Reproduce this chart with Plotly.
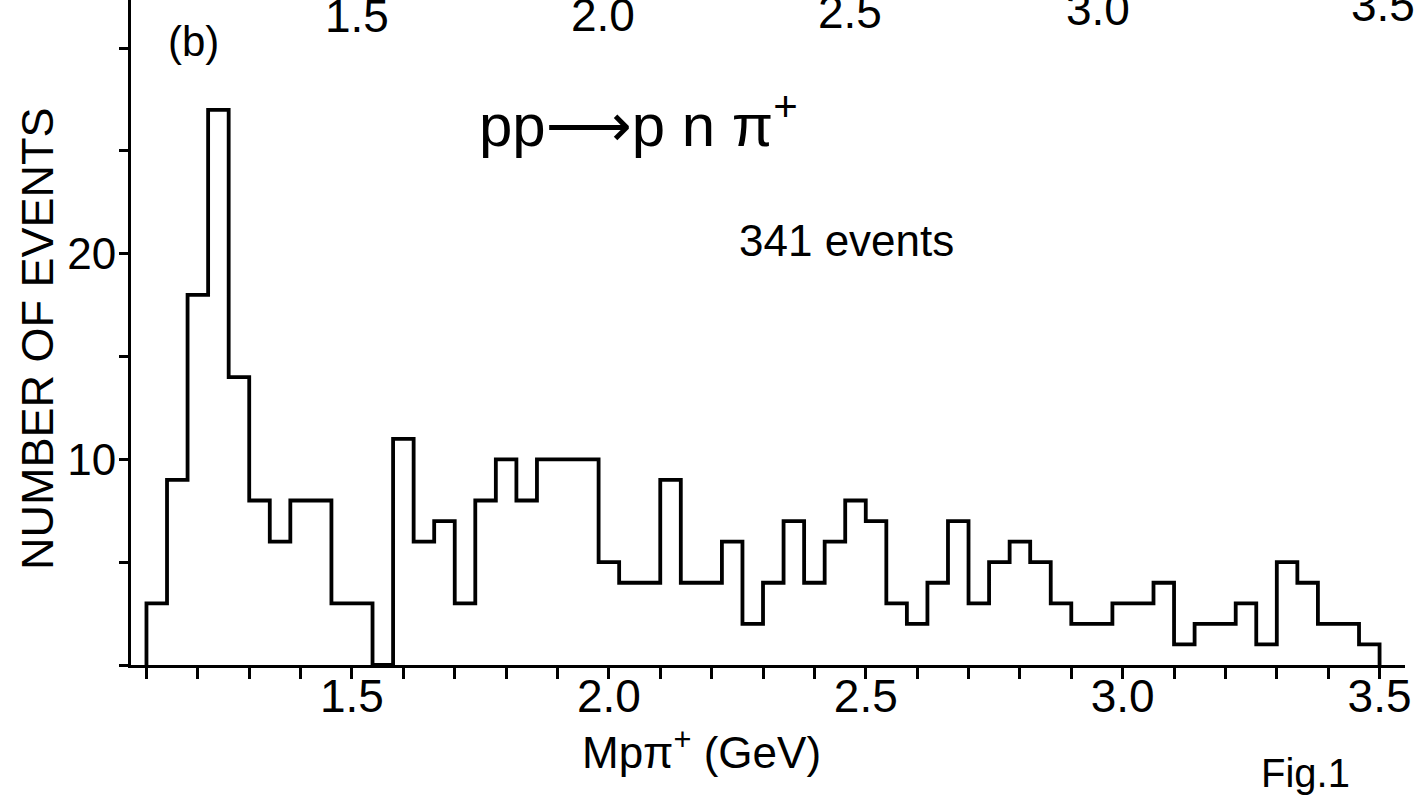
import plotly.graph_objects as go

# ---- data ----
bin_start = 1.10          # GeV
bin_width = 0.04          # GeV
counts = [3, 9, 18, 27, 14, 8, 6, 8, 8, 3,
          3, 0, 11, 6, 7, 3, 8, 10, 8, 10,
          10, 10, 5, 4, 4, 9, 4, 4, 6, 2,
          4, 7, 4, 6, 8, 7, 3, 2, 4, 7,
          3, 5, 6, 5, 3, 2, 2, 3, 3, 4,
          1, 2, 2, 3, 1, 5, 4, 2, 2, 1]
x_tick_vals = [1.5, 2.0, 2.5, 3.0, 3.5]
x_tick_text = ["1.5", "2.0", "2.5", "3.0", "3.5"]
y_tick_vals = [10, 20]
y_tick_text = ["10", "20"]
top_panel_labels = ["1.5", "2.0", "2.5", "3.0", "3.5"]

edges = [round(bin_start + i * bin_width, 4) for i in range(len(counts) + 1)]
xs = [edges[0]] + edges[:-1] + [edges[-1]]
ys = [0] + counts + [0]

W, H = 1415, 798
L, R, T, B = 131, 10, 0, 133
PW, PH = W - L - R, H - T - B

def pp(xp, yp):
    return (xp - L) / PW, (H - B - yp) / PH

SANS = "Liberation Sans, Arial, sans-serif"

fig = go.Figure()
fig.add_trace(go.Scatter(x=xs, y=ys, mode="lines", line=dict(color="black", width=3.8, shape="hv"),
                         hoverinfo="skip", showlegend=False))

ann = []
def add(text, xp, yp, size, family=SANS, xanchor="center", yanchor="middle", angle=0):
    x, y = pp(xp, yp)
    ann.append(dict(text=text, x=x, y=y, xref="paper", yref="paper", showarrow=False,
                    xanchor=xanchor, yanchor=yanchor, textangle=angle,
                    font=dict(size=size, family=family, color="black")))

add("(b)", 193, 42, 42)
add("pp<span style='font-family:DejaVu Sans'>⟶</span>p n π<sup>+</sup>", 638, 122, 60)
add("341 events", 846, 241, 44)
add("NUMBER OF EVENTS", 37, 339, 45, angle=-90)
add("Mpπ<sup>+</sup> (GeV)", 701, 749, 44)
add("Fig.1", 1305, 773, 40)
for lab, xp, yb in zip(top_panel_labels, [357, 603, 850, 1098, 1383], [44, 43, 40, 37, 33]):
    add(lab, xp, yb, 46, yanchor="bottom")

fig.update_layout(
    width=W, height=H,
    margin=dict(l=L, r=R, t=T, b=B, pad=0),
    paper_bgcolor="white", plot_bgcolor="white",
    annotations=ann,
    xaxis=dict(range=[1.0699, 3.5495], showgrid=False, zeroline=False,
               showline=True, linecolor="black", linewidth=3,
               tickmode="array", tickvals=x_tick_vals, ticktext=x_tick_text,
               ticks="outside", ticklen=11, tickwidth=3, tickcolor="black",
               ticklabelstandoff=-22,
               minor=dict(tickmode="linear", tick0=1.1, dtick=0.1, ticks="outside",
                          ticklen=11, tickwidth=3, tickcolor="black"),
               tickfont=dict(size=46, family=SANS, color="black")),
    yaxis=dict(range=[0, 32.34], showgrid=False, zeroline=False,
               showline=True, linecolor="black", linewidth=3,
               tickmode="array", tickvals=y_tick_vals, ticktext=y_tick_text,
               ticks="outside", ticklen=9, tickwidth=3, tickcolor="black",
               ticklabelstandoff=-6,
               minor=dict(tickmode="linear", tick0=0, dtick=5, ticks="outside",
                          ticklen=9, tickwidth=3, tickcolor="black"),
               tickfont=dict(size=44, family=SANS, color="black")),
)

fig.write_html("out.html", config={"displayModeBar": False},
               post_script="document.body.style.margin='0';document.body.style.overflow='hidden';")
